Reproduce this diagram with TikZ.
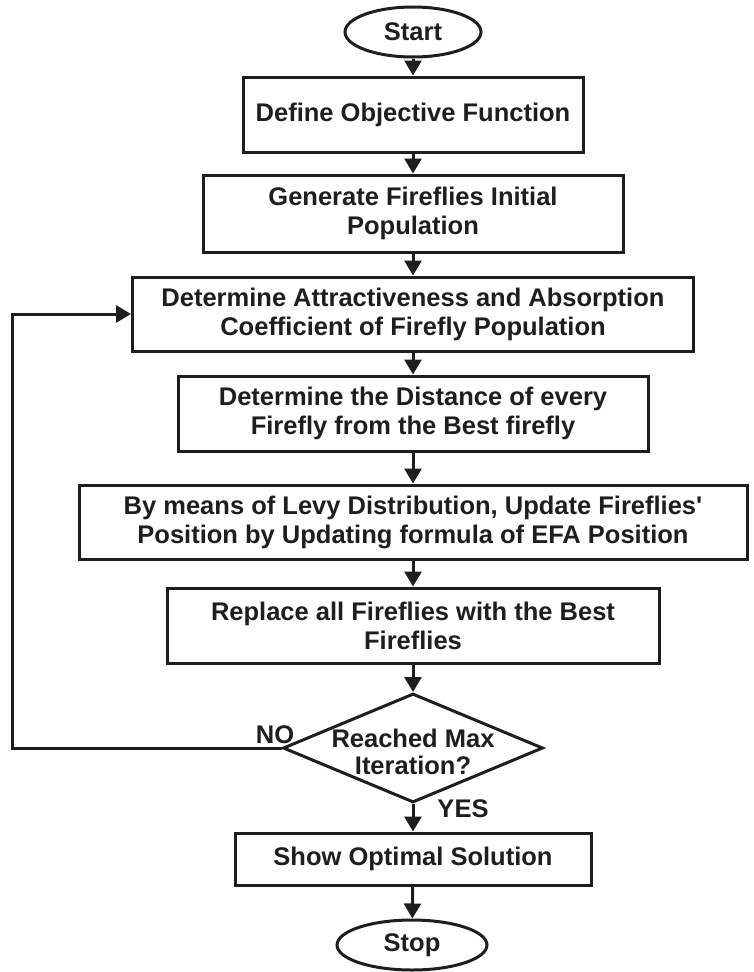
\documentclass[tikz,border=0pt]{standalone}
\usepackage{fontspec}
% no TeX ligature mapping, so ' stays a straight quote
\newfontfamily\chartfont{Liberation Sans}
\usetikzlibrary{shapes.geometric,arrows.meta}

\definecolor{ink}{HTML}{1E1E1E}

\tikzset{
  every node/.style={text=ink, font=\chartfont\bfseries\fontsize{25.5}{29}\selectfont, align=center},
  stepbox/.style={draw=ink, line width=3pt, rectangle, inner sep=0pt, fill=white},
  terminal/.style={draw=ink, line width=3pt, ellipse, inner sep=0pt, fill=white},
  decision/.style={draw=ink, line width=3pt, diamond, inner sep=0pt},
  flow/.style={draw=ink, line width=3pt, -{Triangle[length=15pt,width=17pt]}},
  lbl/.style={inner sep=0pt}
}

\begin{document}
\begin{tikzpicture}[x=1pt,y=-1pt]
  \useasboundingbox[fill=white] (0,0) rectangle (753,972);

  % terminals and process boxes
  \node[terminal, minimum width=136, minimum height=50] (start) at (413,32) {Start};
  \node[stepbox, minimum width=340, minimum height=75] (b1) at (413,114.5) {Define Objective Function};
  \node[stepbox, minimum width=420, minimum height=77] (b2) at (413,213.5) {Generate Fireflies Initial\\Population};
  \node[stepbox, minimum width=561, minimum height=74] (b3) at (413,314) {Determine Attractiveness and Absorption\\Coefficient of Firefly Population};
  \node[stepbox, minimum width=470, minimum height=75] (b4) at (413,413.5) {Determine the Distance of every\\Firefly from the Best firefly};
  \node[stepbox, minimum width=668, minimum height=74] (b5) at (413,522) {By means of Levy Distribution, Update Fireflies'\\Position by Updating formula of EFA Position};
  \node[stepbox, minimum width=492, minimum height=75] (b6) at (413,625.5) {Replace all Fireflies with the Best\\Fireflies};

  % decision
  \node[decision, minimum width=260, minimum height=109] (dec) at (413,748) {};
  \node[lbl, font=\chartfont\bfseries\fontsize{25.5}{27}\selectfont] (dectext) at (413,752) {Reached Max\\Iteration?};

  \node[stepbox, minimum width=356, minimum height=52] (b7) at (413,859) {Show Optimal Solution};
  \node[terminal, minimum width=150, minimum height=50] (stop) at (412,945) {Stop};

  % branch labels
  \node[lbl] (no) at (275,735) {NO};
  \node[lbl] (yes) at (463,809) {YES};

  % main flow
  \draw[flow] (start) -- (b1);
  \draw[flow] (b1) -- (b2);
  \draw[flow] (b2) -- (b3);
  \draw[flow] (b3) -- (b4);
  \draw[flow] (b4) -- (b5);
  \draw[flow] (b5) -- (b6);
  \draw[flow] (b6) -- (dec.north);
  \draw[flow] (dec.south) -- (b7);
  \draw[flow] (b7) -- (stop);

  % loop back for another iteration
  \coordinate (loopx) at (12,0);
  \draw[flow] (dec.west) -- (loopx |- dec.west) -- (loopx |- b3.west) -- (b3.west);
\end{tikzpicture}
\end{document}
